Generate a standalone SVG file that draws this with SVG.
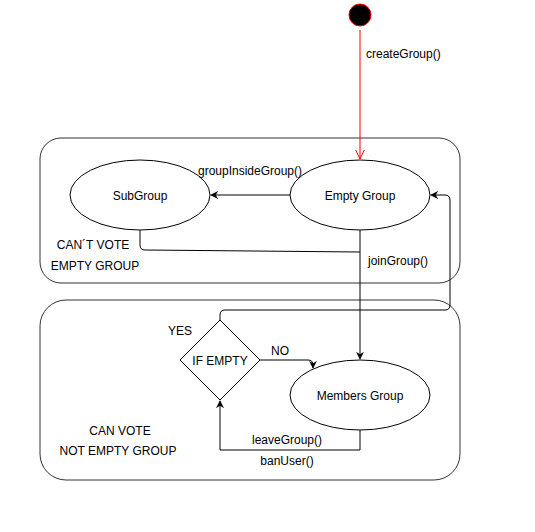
<svg xmlns="http://www.w3.org/2000/svg" width="535" height="532" viewBox="0 0 535 532">
<defs>
<style>
text{font-family:"Liberation Sans",Arial,sans-serif;font-size:12px;fill:#000}
.c{text-anchor:middle}
.st{fill:#fff;stroke:#000;stroke-width:1}
.cont{fill:none;stroke:#333;stroke-width:1}
.e{fill:none;stroke:#000;stroke-width:1}
</style>
<marker id="blk" viewBox="0 0 10 10" refX="9" refY="5" markerWidth="8" markerHeight="8" markerUnits="userSpaceOnUse" orient="auto">
<path d="M0,0 L10,5 L0,10 L3,5 Z" fill="#000"/>
</marker>
<marker id="open" viewBox="0 0 10 10" refX="9.5" refY="5" markerWidth="10" markerHeight="10" markerUnits="userSpaceOnUse" orient="auto">
<path d="M0,0.5 L9.5,5 L0,9.5" fill="none" stroke="#f00" stroke-width="1"/>
</marker>
</defs>
<rect width="535" height="532" fill="#fff"/>
<g id="container-empty">
<rect class="cont" x="40" y="138" width="420" height="145" rx="21" ry="21"/>
<text class="c" x="93" y="249">CAN´T VOTE</text>
<text class="c" x="95" y="270">EMPTY GROUP</text>
</g>
<g id="container-notempty">
<rect class="cont" x="40" y="300" width="420" height="180" rx="26" ry="26"/>
<text class="c" x="120" y="435">CAN VOTE</text>
<text class="c" x="118" y="455">NOT EMPTY GROUP</text>
</g>
<g id="start">
<circle cx="360" cy="15" r="11" fill="#000" stroke="#f00" stroke-width="1"/>
</g>
<g id="subgroup">
<ellipse class="st" cx="140" cy="195" rx="70" ry="35"/>
<text class="c" x="140" y="200">SubGroup</text>
</g>
<g id="empty-group">
<ellipse class="st" cx="360" cy="195" rx="70" ry="35"/>
<text class="c" x="360" y="200">Empty Group</text>
</g>
<g id="if-empty">
<path class="st" d="M220,320 L260,360 L220,400 L180,360 Z"/>
<text class="c" x="220" y="365">IF EMPTY</text>
</g>
<g id="members-group">
<ellipse class="st" cx="360" cy="395" rx="70" ry="35"/>
<text class="c" x="360" y="400">Members Group</text>
</g>
<g id="connectors">
<path d="M360,30 L360,159" fill="none" stroke="#f00" stroke-width="1" marker-end="url(#open)"/>
<text x="366" y="58">createGroup()</text>
<path class="e" d="M290,195 L211,195" marker-end="url(#blk)"/>
<text class="c" x="250" y="175">groupInsideGroup()</text>
<path class="e" d="M140,230 L140,245 Q140,250 145,250 L360,252"/>
<path class="e" d="M360,230 L360,359" marker-end="url(#blk)"/>
<text x="368" y="265">joinGroup()</text>
<path class="e" d="M260,360 L308,360 Q313,360 313,365 L313,368" marker-end="url(#blk)"/>
<text class="c" x="280" y="355">NO</text>
<path class="e" d="M220,320 L220,315 Q220,310 225,310 L445,310 Q450,310 450,305 L450,200 Q450,195 445,195 L431,195" marker-end="url(#blk)"/>
<text class="c" x="180" y="335">YES</text>
<path class="e" d="M360,430 L360,450 L220,450 L220,401" marker-end="url(#blk)"/>
<text class="c" x="287" y="444">leaveGroup()</text>
<text class="c" x="287" y="465">banUser()</text>
</g>
</svg>
